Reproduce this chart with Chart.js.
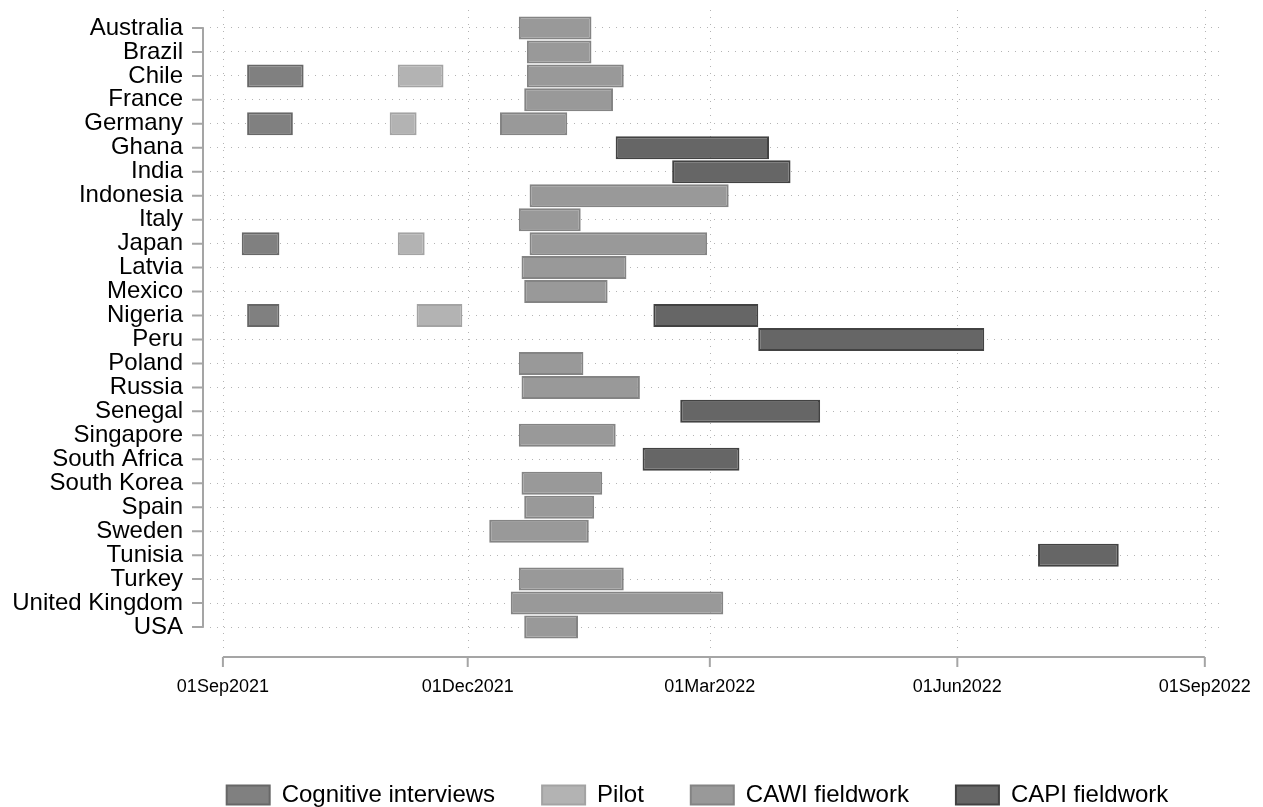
<!DOCTYPE html>
<html lang="en">
<head>
    <meta charset="UTF-8">
    <title>Fieldwork timeline by country</title>
    <script src="https://cdn.jsdelivr.net/npm/chart.js"></script>
    <style>
        body { margin: 0; background: #fff; }
        #wrap { width: 1263px; height: 807px; }
    </style>
</head>
<body>
    <div id="wrap"><canvas id="timeline"></canvas></div>

    <script>
        // Countries, top to bottom
        const countries = ['Australia', 'Brazil', 'Chile', 'France', 'Germany', 'Ghana', 'India', 'Indonesia',
            'Italy', 'Japan', 'Latvia', 'Mexico', 'Nigeria', 'Peru', 'Poland', 'Russia', 'Senegal', 'Singapore',
            'South Africa', 'South Korea', 'Spain', 'Sweden', 'Tunisia', 'Turkey', 'United Kingdom', 'USA'];

        // [start, end] per country, same order as countries (null = no phase)
        const cognitive = [null, null, ['2021-09-10', '2021-10-01'], null, ['2021-09-10', '2021-09-27'],
            null, null, null, null, ['2021-09-08', '2021-09-22'], null, null, ['2021-09-10', '2021-09-22'],
            null, null, null, null, null, null, null, null, null, null, null, null, null];

        const pilot = [null, null, ['2021-11-05', '2021-11-22'], null, ['2021-11-02', '2021-11-12'],
            null, null, null, null, ['2021-11-05', '2021-11-15'], null, null, ['2021-11-12', '2021-11-29'],
            null, null, null, null, null, null, null, null, null, null, null, null, null];

        const cawi = [['2021-12-20', '2022-01-16'], ['2021-12-23', '2022-01-16'], ['2021-12-23', '2022-01-28'],
            ['2021-12-22', '2022-01-24'], ['2021-12-13', '2022-01-07'], null, null,
            ['2021-12-24', '2022-03-08'], ['2021-12-20', '2022-01-12'], ['2021-12-24', '2022-02-28'],
            ['2021-12-21', '2022-01-29'], ['2021-12-22', '2022-01-22'], null, null,
            ['2021-12-20', '2022-01-13'], ['2021-12-21', '2022-02-03'], null, ['2021-12-20', '2022-01-25'],
            null, ['2021-12-21', '2022-01-20'], ['2021-12-22', '2022-01-17'], ['2021-12-09', '2022-01-15'],
            null, ['2021-12-20', '2022-01-28'], ['2021-12-17', '2022-03-06'], ['2021-12-22', '2022-01-11']];

        const capi = [null, null, null, null, null, ['2022-01-25', '2022-03-23'], ['2022-02-15', '2022-03-31'],
            null, null, null, null, null, ['2022-02-08', '2022-03-19'], ['2022-03-19', '2022-06-11'],
            null, null, ['2022-02-18', '2022-04-11'], null, ['2022-02-04', '2022-03-12'],
            null, null, null, ['2022-07-01', '2022-07-31'], null, null, null];

        const tickDates = ['2021-09-01', '2021-12-01', '2022-03-01', '2022-06-01', '2022-09-01'];
        const tickLabels = ['01Sep2021', '01Dec2021', '01Mar2022', '01Jun2022', '01Sep2022'];

        const FONT = "'Liberation Sans', Arial, Helvetica, sans-serif";
        const GRID_COLOR = '#b4b4b4';
        const AXIS_COLOR = '#a5a5a5';

        // dates become day numbers counted from the first tick
        const day0 = Date.UTC(2021, 8, 1);
        function toDay(s) {
            const [y, m, d] = s.split('-').map(Number);
            return (Date.UTC(y, m - 1, d) - day0) / 86400000;
        }
        function toBars(list) {
            return list.map(p => p ? [toDay(p[0]), toDay(p[1])] : null);
        }
        const tickDays = tickDates.map(toDay);

        // Stata-like axes: lines only between first and last tick, set apart from the plot
        const stataAxes = {
            id: 'stataAxes',
            beforeDatasetsDraw(chart) {
                const { ctx, chartArea: area, scales: { x, y } } = chart;
                const axisY = area.bottom + 18;
                ctx.save();

                ctx.strokeStyle = GRID_COLOR;
                ctx.lineWidth = 1;
                ctx.setLineDash([1, 6]);
                tickDays.forEach(d => {
                    const px = Math.round(x.getPixelForValue(d)) + 0.5;
                    ctx.beginPath();
                    ctx.moveTo(px, area.top - 6);
                    ctx.lineTo(px, area.bottom + 11);
                    ctx.stroke();
                });

                ctx.setLineDash([]);
                ctx.strokeStyle = AXIS_COLOR;
                ctx.lineWidth = 2;
                ctx.beginPath();
                ctx.moveTo(x.getPixelForValue(tickDays[0]), axisY);
                ctx.lineTo(x.getPixelForValue(tickDays[tickDays.length - 1]), axisY);
                tickDays.forEach(d => {
                    const px = x.getPixelForValue(d);
                    ctx.moveTo(px, axisY);
                    ctx.lineTo(px, axisY + 10);
                });
                ctx.moveTo(area.left, y.getPixelForValue(0));
                ctx.lineTo(area.left, y.getPixelForValue(countries.length - 1));
                countries.forEach((c, i) => {
                    const py = y.getPixelForValue(i);
                    ctx.moveTo(area.left - 11, py);
                    ctx.lineTo(area.left, py);
                });
                ctx.stroke();
                ctx.restore();
            }
        };

        // legend sits under the plot region, not under the whole canvas
        const legendShift = {
            id: 'legendShift',
            afterLayout(chart) {
                const lg = chart.legend;
                lg.left += 85;
                lg.right += 85;
                lg.top += 10;
                lg.bottom += 10;
            }
        };

        const ctx = document.getElementById('timeline').getContext('2d');
        new Chart(ctx, {
            type: 'bar',
            data: {
                labels: countries,
                datasets: [
                    { label: 'Cognitive interviews', data: toBars(cognitive), backgroundColor: '#808080', borderColor: '#676767' },
                    { label: 'Pilot', data: toBars(pilot), backgroundColor: '#b3b3b3', borderColor: '#a3a3a3' },
                    { label: 'CAWI fieldwork', data: toBars(cawi), backgroundColor: '#999999', borderColor: '#848484' },
                    { label: 'CAPI fieldwork', data: toBars(capi), backgroundColor: '#666666', borderColor: '#424242' }
                ]
            },
            options: {
                indexAxis: 'y',
                responsive: true,
                maintainAspectRatio: false,
                animation: false,
                layout: { padding: { top: 16, right: 38, bottom: 0, left: 0 } },
                datasets: {
                    bar: { grouped: false, borderWidth: 2, borderSkipped: false, categoryPercentage: 0.96, barPercentage: 1 }
                },
                scales: {
                    x: {
                        type: 'linear',
                        min: -7.4,
                        max: 372.5,
                        afterBuildTicks: s => { s.ticks = tickDays.map(v => ({ value: v })); },
                        afterFit: s => {
                            s.height = 87;
                            s.paddingLeft = 0;
                            s.paddingRight = 0;
                        },
                        grid: { display: false },
                        border: { display: false },
                        ticks: {
                            autoSkip: false,
                            maxRotation: 0,
                            padding: 29,
                            color: '#000',
                            font: { family: FONT, size: 18 },
                            callback: v => tickLabels[tickDays.indexOf(v)]
                        }
                    },
                    y: {
                        afterFit: s => {
                            s.width = 203;
                            s.paddingTop = 0;
                            s.paddingBottom = 0;
                        },
                        grid: { offset: false, drawTicks: false, color: GRID_COLOR, lineWidth: 1 },
                        border: { display: false, dash: [1, 6] },
                        ticks: { autoSkip: false, padding: 20, color: '#000', font: { family: FONT, size: 24 } }
                    }
                },
                plugins: {
                    legend: {
                        position: 'bottom',
                        labels: { boxWidth: 43, boxHeight: 19, padding: 47, color: '#000', font: { family: FONT, size: 24 } }
                    },
                    tooltip: { enabled: false }
                }
            },
            plugins: [stataAxes, legendShift]
        });
    </script>
</body>
</html>
